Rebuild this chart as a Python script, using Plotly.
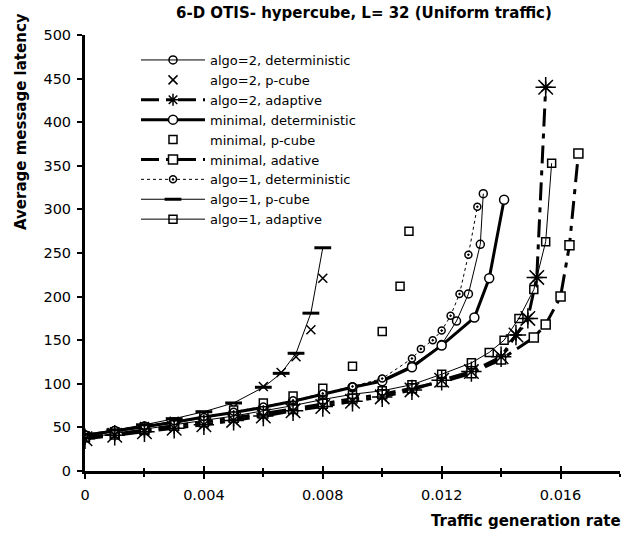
import plotly.graph_objects as go

FONT = "DejaVu Sans, Verdana, sans-serif"

# ---- data: traffic generation rate (x) vs average message latency (y) ----
a2_det_x = [0, .001, .002, .003, .004, .005, .006, .007, .008, .009, .010, .011, .012, .0125, .0129, .0133, .0134]
a2_det_y = [40, 45, 50, 55, 61, 67, 73, 80, 88, 96, 105, 121, 145, 172, 203, 260, 318]

a2_pcube_x = [0, .001, .002, .003, .004, .005, .006, .0066, .0071, .0076, .008]
a2_pcube_y = [40, 45, 51, 57, 64, 73, 97, 113, 131, 162, 221]

a2_adapt_x = [0, .001, .002, .003, .004, .005, .006, .007, .008, .009, .010, .011, .012, .013, .014, .0145, .0149, .0152, .0155]
a2_adapt_y = [37, 41, 45, 49, 53, 58, 63, 69, 74, 80, 85, 93, 104, 114, 131, 156, 175, 222, 440]

min_det_x = [0, .001, .002, .003, .004, .005, .006, .007, .008, .009, .010, .011, .012, .0131, .0136, .0141]
min_det_y = [41, 46, 51, 56, 62, 67, 73, 80, 88, 96, 103, 119, 144, 176, 221, 311]

min_pcube_x = [0, .001, .002, .003, .004, .005, .006, .007, .008, .009, .010, .0106, .0109]
min_pcube_y = [40, 45, 50, 56, 63, 70, 78, 86, 95, 120, 160, 212, 275]

min_adapt_x = [0, .001, .002, .003, .004, .005, .006, .007, .008, .009, .010, .011, .012, .013, .014, .0151, .0155, .0160, .0163, .0166]
min_adapt_y = [39, 42, 47, 52, 56, 61, 66, 71, 77, 83, 88, 95, 102, 112, 128, 153, 168, 200, 259, 364]

a1_det_x = [0, .001, .002, .003, .004, .005, .006, .007, .008, .009, .010, .011, .0113, .0117, .012, .0123, .0126, .0129, .0132]
a1_det_y = [42, 47, 52, 57, 62, 68, 74, 81, 89, 97, 106, 129, 140, 150, 161, 178, 203, 248, 303]

a1_pcube_x = [0, .001, .002, .003, .004, .005, .006, .0066, .0071, .0076, .008]
a1_pcube_y = [42, 47, 53, 60, 68, 78, 96, 112, 135, 181, 256]

a1_adapt_x = [0, .001, .002, .003, .004, .005, .006, .007, .008, .009, .010, .011, .012, .013, .0136, .0141, .0146, .0151, .0155, .0157]
a1_adapt_y = [38, 43, 48, 53, 58, 63, 69, 75, 82, 88, 92, 99, 111, 124, 136, 150, 175, 208, 263, 353]

x_tick_vals = [0, 0.004, 0.008, 0.012, 0.016]
x_tick_text = ["0", "0.004", "0.008", "0.012", "0.016"]

DASHDOT = "18px,7px,5px,7px"

fig = go.Figure()


def add(name, x, y, mode, line=None, marker=None, legend=True, xaxis="x"):
    fig.add_trace(go.Scatter(
        x=x, y=y, name=name, mode=mode, showlegend=legend, xaxis=xaxis,
        line=line or {}, marker=marker or {}, hoverinfo="x+y+name",
    ))


add("algo=2, deterministic", a2_det_x, a2_det_y, "lines+markers",
    line=dict(color="black", width=1),
    marker=dict(symbol="circle-open", size=8, color="black", line=dict(width=1.5)))
add("algo=2, p-cube", a2_pcube_x, a2_pcube_y, "markers",
    marker=dict(symbol="x-thin-open", size=9, color="black", line=dict(width=1.5, color="black")))
add("algo=2, adaptive", a2_adapt_x, a2_adapt_y, "lines+markers",
    line=dict(color="black", width=3, dash=DASHDOT),
    marker=dict(symbol="asterisk-open", size=10, color="black", line=dict(width=1.5, color="black")))
# larger star markers on the plot itself (on the twin x axis that carries the inner ticks)
add("algo=2, adaptive", a2_adapt_x, a2_adapt_y, "markers",
    marker=dict(symbol="asterisk-open", size=17, color="black", line=dict(width=1.5, color="black")),
    legend=False, xaxis="x2")
add("minimal, deterministic", min_det_x, min_det_y, "lines+markers",
    line=dict(color="black", width=3),
    marker=dict(symbol="circle", size=9, color="white", line=dict(width=1.5, color="black")))
add("minimal, p-cube", min_pcube_x, min_pcube_y, "markers",
    marker=dict(symbol="square", size=8, color="white", line=dict(width=1.5, color="black")))
add("minimal, adative", min_adapt_x, min_adapt_y, "lines+markers",
    line=dict(color="black", width=3, dash=DASHDOT),
    marker=dict(symbol="square", size=9, color="white", line=dict(width=1.5, color="black")))
add("algo=1, deterministic", a1_det_x, a1_det_y, "lines+markers",
    line=dict(color="black", width=1, dash="3px,3px"),
    marker=dict(symbol="circle-dot", size=7, color="white", line=dict(width=1.5, color="black")))
add("algo=1, p-cube", a1_pcube_x, a1_pcube_y, "lines+markers",
    line=dict(color="black", width=1),
    marker=dict(symbol="line-ew-open", size=12, color="black", line=dict(width=3, color="black")))
add("algo=1, adaptive", a1_adapt_x, a1_adapt_y, "lines+markers",
    line=dict(color="black", width=1),
    marker=dict(symbol="square-open", size=8, color="black", line=dict(width=1.5, color="black")))

W, H = 631, 536
L, R, T, B = 85, 11, 35, 65
pw, ph = W - L - R, H - T - B


def px(xp):
    return (xp - L) / pw


def py(yp):
    return (H - B - yp) / ph


X_RANGE = [0, 0.018]

fig.update_layout(
    width=W, height=H,
    margin=dict(l=L, r=R, t=T, b=B),
    paper_bgcolor="white", plot_bgcolor="white",
    font=dict(family=FONT, size=14.5, color="black"),
    showlegend=True,
    legend=dict(
        x=px(136), y=py(45), xanchor="left", yanchor="top",
        bgcolor="rgba(0,0,0,0)", font=dict(size=13, family=FONT),
        itemwidth=64, tracegroupgap=0,
    ),
    xaxis=dict(
        range=X_RANGE, tickvals=x_tick_vals, ticktext=x_tick_text,
        showgrid=False, zeroline=False, showline=True, linecolor="black", linewidth=3,
        ticks="outside", ticklen=5, tickwidth=2, tickcolor="black", ticklabelstandoff=4,
        minor=dict(dtick=0.002, tick0=0, ticks="outside", ticklen=3, tickwidth=2, tickcolor="black"),
        fixedrange=True,
    ),
    # twin x axis: same scale, gives the ticks that cross the axis line
    xaxis2=dict(
        range=X_RANGE, matches="x", overlaying="x", anchor="y", side="bottom",
        tickvals=x_tick_vals, showticklabels=False,
        showgrid=False, zeroline=False, showline=False,
        ticks="inside", ticklen=5, tickwidth=2, tickcolor="black",
        minor=dict(dtick=0.002, tick0=0, ticks="inside", ticklen=3, tickwidth=2, tickcolor="black"),
        fixedrange=True,
    ),
    yaxis=dict(
        range=[0, 500], dtick=50,
        showgrid=False, zeroline=False, showline=True, linecolor="black", linewidth=3,
        ticks="outside", ticklen=5, tickwidth=2, tickcolor="black", ticklabelstandoff=3,
        fixedrange=True,
    ),
)

fig.add_annotation(text="<b>6-D OTIS- hypercube, L= 32 (Uniform traffic)</b>",
                   x=px(364), y=py(13), xref="paper", yref="paper",
                   xanchor="center", yanchor="middle", showarrow=False,
                   font=dict(size=15, family=FONT))
fig.add_annotation(text="<b>Traffic generation rate</b>",
                   x=px(623), y=py(521), xref="paper", yref="paper",
                   xanchor="right", yanchor="middle", showarrow=False,
                   font=dict(size=15, family=FONT))
fig.add_annotation(text="<b>Average message latency</b>", textangle=-90,
                   x=px(21), y=py(122), xref="paper", yref="paper",
                   xanchor="center", yanchor="middle", showarrow=False,
                   font=dict(size=15, family=FONT))

fig.write_html("out.html")
